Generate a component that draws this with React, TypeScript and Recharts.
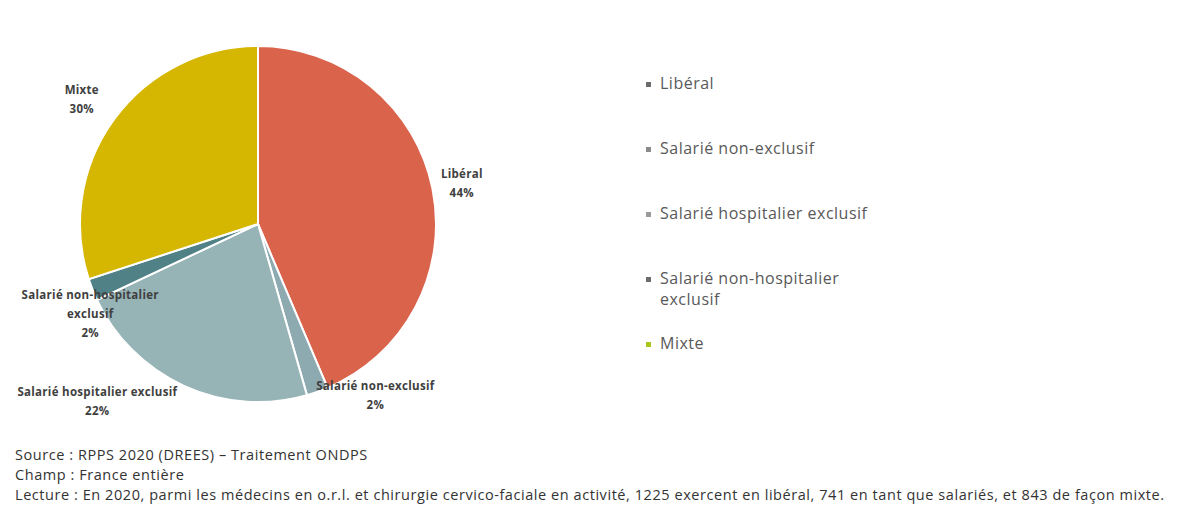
import { PieChart, Pie, Cell } from "recharts"

const categories = [
  "Libéral",
  "Salarié non-exclusif",
  "Salarié hospitalier exclusif",
  "Salarié non-hospitalier exclusif",
  "Mixte",
]
const counts = [1225, 55, 630, 56, 843]
const sliceColors = ["#D9634B", "#8DAAB1", "#96B3B6", "#4F8187", "#D5B600"]
const legendMarkers = ["#6B6B6B", "#8A8A8A", "#9A9A9A", "#6B6B6B", "#A6C81C"]

const footerLines = [
  "Source : RPPS 2020 (DREES) – Traitement ONDPS",
  "Champ : France entière",
  "Lecture : En 2020, parmi les médecins en o.r.l. et chirurgie cervico-faciale en activité, 1225 exercent en libéral, 741 en tant que salariés, et 843 de façon mixte.",
]

const data = categories.map((name, i) => ({ name, value: counts[i] }))

// label placement: radius from centre plus a nudge, per slice
const labelRadius = [208, 181, 200, 174, 214]
const labelNudge = [
  [0, 0],
  [57, 0],
  [-78, -6],
  [-6, 25],
  [-3, 0],
]

const RAD = Math.PI / 180

function SliceLabel(props: any) {
  const { cx, cy, midAngle, percent, index, name } = props
  const r = labelRadius[index]
  const x = cx + r * Math.cos(-midAngle * RAD) + labelNudge[index][0]
  const y = cy + r * Math.sin(-midAngle * RAD) + labelNudge[index][1]
  const lines =
    index === 3 ? ["Salarié non-hospitalier", "exclusif"] : [name as string]
  lines.push(`${Math.round(percent * 100)}%`)
  const lh = 19
  const top = y - ((lines.length - 1) * lh) / 2
  return (
    <text
      x={x}
      y={top}
      textAnchor="middle"
      dominantBaseline="central"
      fill="#404040"
      fontSize={11.5}
      fontWeight={700}
      letterSpacing={0.3}
      fontFamily="'Open Sans', sans-serif"
    >
      {lines.map((l, i) => (
        <tspan key={i} x={x} y={top + i * lh}>
          {l}
        </tspan>
      ))}
    </text>
  )
}

function LegendList() {
  return (
    <div
      style={{
        position: "absolute",
        left: 646,
        top: 73,
        fontFamily: "'Open Sans', sans-serif",
        fontSize: 16,
        letterSpacing: 0.5,
        color: "#595959",
      }}
    >
      {categories.map((c, i) => (
        <div key={c} style={{ height: 65, display: "flex", alignItems: "flex-start" }}>
          <span
            style={{
              width: 5,
              height: 5,
              background: legendMarkers[i],
              marginTop: 9,
              marginRight: 9,
              flex: "none",
            }}
          />
          <span style={{ width: 212, lineHeight: "21px" }}>{c}</span>
        </div>
      ))}
    </div>
  )
}

export default function App() {
  return (
    <div
      style={{
        position: "absolute",
        left: 0,
        top: 0,
        width: 1179,
        height: 528,
        background: "#fff",
      }}
    >
      <PieChart width={1179} height={440} margin={{ top: 0, right: 0, bottom: 0, left: 0 }}>
        <Pie
          data={data}
          dataKey="value"
          nameKey="name"
          cx={258}
          cy={224}
          outerRadius={178}
          startAngle={90}
          endAngle={-270}
          stroke="#fff"
          strokeWidth={2}
          labelLine={false}
          label={SliceLabel}
          isAnimationActive={false}
        >
          {data.map((d, i) => (
            <Cell key={d.name} fill={sliceColors[i]} />
          ))}
        </Pie>
      </PieChart>
      <LegendList />
      <div
        style={{
          position: "absolute",
          left: 15,
          top: 445,
          fontFamily: "'Open Sans', sans-serif",
          fontSize: 14.5,
          letterSpacing: 0.56,
          lineHeight: "20px",
          color: "#333",
          whiteSpace: "nowrap",
        }}
      >
        {footerLines.map((l) => (
          <div key={l}>{l}</div>
        ))}
      </div>
    </div>
  )
}
